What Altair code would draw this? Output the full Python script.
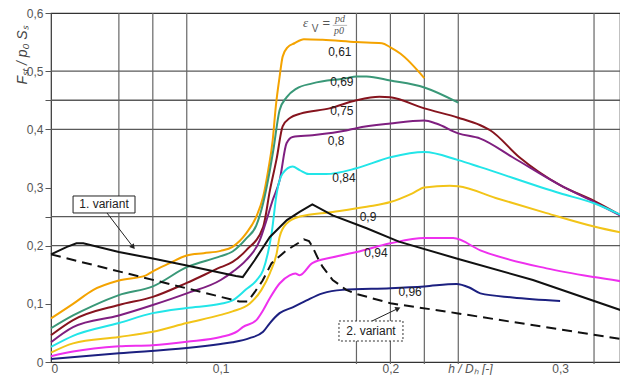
import altair as alt
import pandas as pd

# ---------------- data ----------------
series_names = ["0,61", "0,69", "0,75", "0,8", "0,84", "0,9", "0,94", "0,96"]
series_colors = ["#F4A300", "#3A9878", "#86141E", "#7F1F80", "#22E5E8", "#F2C418", "#EE30EE", "#1C2080"]

x061 = [0, 0.013, 0.025, 0.04, 0.056, 0.06, 0.07, 0.08, 0.09, 0.1, 0.107, 0.115, 0.121, 0.125, 0.128, 0.1306, 0.1325, 0.1347, 0.1365, 0.1394, 0.1435, 0.149, 0.16, 0.18, 0.195, 0.2, 0.206, 0.22]
y061 = [0.075, 0.1, 0.124, 0.14, 0.149, 0.156, 0.17, 0.183, 0.187, 0.191, 0.198, 0.221, 0.25, 0.284, 0.33, 0.38, 0.44, 0.49, 0.525, 0.541, 0.548, 0.555, 0.554, 0.55, 0.548, 0.541, 0.53, 0.488]

x069 = [0, 0.013, 0.025, 0.04, 0.06, 0.08, 0.1, 0.107, 0.115, 0.121, 0.125, 0.129, 0.131, 0.1347, 0.1388, 0.1447, 0.1541, 0.174, 0.18, 0.186, 0.2, 0.22, 0.24]
y069 = [0.058, 0.08, 0.097, 0.115, 0.13, 0.163, 0.182, 0.19, 0.212, 0.235, 0.273, 0.33, 0.364, 0.433, 0.455, 0.47, 0.479, 0.488, 0.491, 0.491, 0.484, 0.472, 0.446]

x075 = [0, 0.013, 0.04, 0.06, 0.08, 0.1, 0.107, 0.115, 0.125, 0.129, 0.133, 0.1365, 0.141, 0.147, 0.1641, 0.18, 0.1935, 0.2, 0.22, 0.24, 0.253, 0.259, 0.276, 0.3, 0.32, 0.34]
y075 = [0.046, 0.072, 0.098, 0.112, 0.136, 0.163, 0.172, 0.192, 0.232, 0.295, 0.35, 0.405, 0.42, 0.427, 0.436, 0.45, 0.456, 0.455, 0.436, 0.42, 0.407, 0.398, 0.352, 0.304, 0.277, 0.245]

x080 = [0, 0.013, 0.04, 0.06, 0.08, 0.1, 0.107, 0.115, 0.123, 0.127, 0.1306, 0.1347, 0.1388, 0.1424, 0.1541, 0.174, 0.18, 0.2, 0.22, 0.227, 0.24, 0.253, 0.272, 0.3, 0.32, 0.34]
y080 = [0.034, 0.06, 0.08, 0.098, 0.118, 0.141, 0.155, 0.175, 0.209, 0.244, 0.278, 0.312, 0.376, 0.387, 0.39, 0.398, 0.402, 0.41, 0.415, 0.41, 0.393, 0.384, 0.352, 0.304, 0.275, 0.245]

x084 = [0, 0.013, 0.04, 0.06, 0.08, 0.1, 0.107, 0.115, 0.121, 0.125, 0.128, 0.13, 0.133, 0.1365, 0.1424, 0.1465, 0.152, 0.162, 0.18, 0.2, 0.22, 0.24, 0.253, 0.3, 0.32, 0.34]
y084 = [0.026, 0.045, 0.067, 0.084, 0.093, 0.1, 0.106, 0.125, 0.14, 0.158, 0.19, 0.221, 0.29, 0.324, 0.336, 0.33, 0.323, 0.323, 0.333, 0.352, 0.361, 0.347, 0.335, 0.29, 0.273, 0.247]

x090 = [0, 0.013, 0.04, 0.06, 0.08, 0.1, 0.107, 0.117, 0.124, 0.129, 0.133, 0.1347, 0.1388, 0.1465, 0.166, 0.186, 0.2, 0.213, 0.22, 0.235, 0.24, 0.262, 0.292, 0.32, 0.34]
y090 = [0.016, 0.032, 0.043, 0.052, 0.067, 0.081, 0.087, 0.1, 0.124, 0.153, 0.187, 0.215, 0.238, 0.25, 0.258, 0.267, 0.275, 0.29, 0.3, 0.303, 0.302, 0.282, 0.256, 0.233, 0.22]

x094 = [0, 0.013, 0.04, 0.06, 0.08, 0.1, 0.11, 0.113, 0.121, 0.125, 0.129, 0.1347, 0.1406, 0.144, 0.1465, 0.154, 0.166, 0.18, 0.2, 0.22, 0.237, 0.253, 0.292, 0.32, 0.34]
y094 = [0.01, 0.018, 0.027, 0.029, 0.035, 0.043, 0.053, 0.06, 0.072, 0.089, 0.11, 0.135, 0.149, 0.152, 0.149, 0.17, 0.18, 0.189, 0.204, 0.213, 0.213, 0.192, 0.161, 0.146, 0.137]

x096 = [0, 0.04, 0.08, 0.1, 0.107, 0.117, 0.125, 0.129, 0.1347, 0.1424, 0.1506, 0.16, 0.1718, 0.2, 0.22, 0.239, 0.2465, 0.253, 0.272, 0.3]
y096 = [0.005, 0.015, 0.024, 0.031, 0.034, 0.041, 0.052, 0.067, 0.084, 0.094, 0.106, 0.118, 0.124, 0.127, 0.13, 0.134, 0.128, 0.118, 0.111, 0.105]

xs_all = [x061, x069, x075, x080, x084, x090, x094, x096]
ys_all = [y061, y069, y075, y080, y084, y090, y094, y096]

# black reference curves
var1_x = [0, 0.0094, 0.015, 0.019, 0.04, 0.06, 0.08, 0.109, 0.113, 0.12, 0.129, 0.139, 0.1465, 0.154, 0.166, 0.186, 0.205, 0.239, 0.284, 0.339]
var1_y = [0.185, 0.198, 0.204, 0.204, 0.189, 0.178, 0.166, 0.148, 0.146, 0.175, 0.215, 0.244, 0.258, 0.271, 0.252, 0.23, 0.207, 0.178, 0.141, 0.086]

var2_x = [0, 0.111, 0.116, 0.12, 0.1247, 0.13, 0.1388, 0.146, 0.149, 0.152, 0.1541, 0.157, 0.16, 0.166, 0.174, 0.18, 0.2, 0.239, 0.339]
var2_y = [0.185, 0.104, 0.104, 0.12, 0.14, 0.17, 0.192, 0.205, 0.211, 0.208, 0.198, 0.18, 0.164, 0.141, 0.124, 0.117, 0.101, 0.084, 0.038]

# curve labels
lab_text = ["0,61", "0,69", "0,75", "0,8", "0,84", "0,9", "0,94", "0,96"]
lab_x = [0.1702, 0.1714, 0.1714, 0.1680, 0.1726, 0.1868, 0.1915, 0.2116]
lab_y = [0.533, 0.481, 0.431, 0.380, 0.316, 0.249, 0.187, 0.120]

# grid / ticks
hgrid = [0.2, 0.25, 0.4, 0.45, 0.5]
vgrid = [0.04, 0.06, 0.08, 0.18, 0.2, 0.22, 0.24, 0.32]
x_labels = [0, 0.1, 0.2, 0.3]
y_ticks = [0, 0.1, 0.2, 0.25, 0.3, 0.4, 0.45, 0.5, 0.6]
x_max = 0.3353
y_max = 0.6

# annotations
box_text = ["1. variant", "2. variant"]
box_x1 = [0.0130, 0.1697]
box_x2 = [0.0495, 0.2074]
box_y1 = [0.2854, 0.0705]
box_y2 = [0.2562, 0.0361]
arrow_x1 = [0.0330, 0.1892]
arrow_y1 = [0.2562, 0.0705]
arrow_x2 = [0.0484, 0.2045]
arrow_y2 = [0.1975, 0.0920]
arrow_angle = [51, 335]

# legend header  eps_V = p_d / p_0
hx = [0.1500, 0.1556, 0.1623, 0.1703, 0.1697]
hy = [0.583, 0.5725, 0.5836, 0.5897, 0.569]
ht = ["ε", "V", "=", "pd", "p0"]
hs = [13, 10, 13, 10, 10]
hst = ["italic", "normal", "normal", "italic", "italic"]

# ---------------- build ----------------
rows = []
for name, xs, ys in zip(series_names, xs_all, ys_all):
    for i, (a, b) in enumerate(zip(xs, ys)):
        rows.append({"s": name, "x": a, "y": b, "o": i})
df = pd.DataFrame(rows)

xsc = alt.Scale(domain=[0, x_max], nice=False, zero=False)
ysc = alt.Scale(domain=[0, y_max], nice=False, zero=False)
FONT = "Liberation Sans"

x_axis = alt.Axis(values=x_labels, ticks=False, domain=False, grid=False,
                  labelExpr="datum.value == 0 ? '0' : replace(format(datum.value, '.1f'), '.', ',')",
                  labelFont=FONT, labelFontSize=12, labelColor="#555", labelPadding=1,
                  title="h / Dₕ [-]", titleFont=FONT, titleFontSize=12, titleFontStyle="italic",
                  titleFontWeight="normal", titleColor="#555", titleX=419, titleY=6,
                  titleAlign="center", titleBaseline="middle")
y_axis = alt.Axis(values=y_ticks, domain=False, grid=False, ticks=True, tickSize=6,
                  tickColor="#555",
                  labelExpr="abs(datum.value*10 - round(datum.value*10)) > 0.01 ? '' : (datum.value == 0 ? '0' : replace(format(datum.value, '.1f'), '.', ','))",
                  labelFont=FONT, labelFontSize=12, labelColor="#555", labelPadding=2,
                  title="Fₛₜ / p₀ Sₛ", titleFont=FONT, titleFontSize=14, titleFontStyle="italic",
                  titleFontWeight="normal", titleColor="#444", titleX=-29, titleY=42,
                  titleAlign="center", titleBaseline="middle", titleAngle=270)


def X(f):
    return alt.X(f, type="quantitative", scale=xsc, axis=x_axis)


def Y(f):
    return alt.Y(f, type="quantitative", scale=ysc, axis=y_axis)


hg = alt.Chart(pd.DataFrame({"v": hgrid})).mark_rule(color="#5a5a5a", strokeWidth=1.3).encode(y=Y("v"))
vg = alt.Chart(pd.DataFrame({"v": vgrid})).mark_rule(color="#666", strokeWidth=1.2).encode(x=X("v"))
vt = alt.Chart(pd.DataFrame({"v": vgrid})).mark_rule(color="#666", strokeWidth=1.2).encode(
    x=X("v"), y=alt.value(349), y2=alt.value(351))

curves = alt.Chart(df).mark_line(strokeWidth=2, interpolate="monotone").encode(
    x=X("x"), y=Y("y"),
    color=alt.Color("s:N", scale=alt.Scale(domain=series_names, range=series_colors), legend=None),
    order="o:Q")

v1 = alt.Chart(pd.DataFrame({"x": var1_x, "y": var1_y, "o": range(len(var1_x))})).mark_line(
    color="#111", strokeWidth=2).encode(x=X("x"), y=Y("y"), order="o:Q")
v2 = alt.Chart(pd.DataFrame({"x": var2_x, "y": var2_y, "o": range(len(var2_x))})).mark_line(
    color="#111", strokeWidth=2, strokeDash=[10, 6]).encode(x=X("x"), y=Y("y"), order="o:Q")

labels = alt.Chart(pd.DataFrame({"x": lab_x, "y": lab_y, "t": lab_text})).mark_text(
    font=FONT, fontSize=12, color="#222").encode(x=X("x"), y=Y("y"), text="t:N")

bdf = pd.DataFrame({"x1": box_x1, "x2": box_x2, "y1": box_y1, "y2": box_y2, "t": box_text,
                    "cx": [(a + b) / 2 for a, b in zip(box_x1, box_x2)],
                    "cy": [(a + b) / 2 for a, b in zip(box_y1, box_y2)]})
box1 = alt.Chart(bdf.iloc[[0]]).mark_rect(fill="white", stroke="#222", strokeWidth=1).encode(
    x=X("x1"), x2="x2:Q", y=Y("y1"), y2="y2:Q")
box2 = alt.Chart(bdf.iloc[[1]]).mark_rect(fill="white", stroke="#333", strokeWidth=1, strokeDash=[2, 2]).encode(
    x=X("x1"), x2="x2:Q", y=Y("y1"), y2="y2:Q")
btxt = alt.Chart(bdf).mark_text(font=FONT, fontSize=12, color="#222", baseline="middle").encode(
    x=X("cx"), y=Y("cy"), text="t:N")

adf = pd.DataFrame({"x1": arrow_x1, "y1": arrow_y1, "x2": arrow_x2, "y2": arrow_y2, "a": arrow_angle})
arr = alt.Chart(adf).mark_rule(color="#222", strokeWidth=1).encode(
    x=X("x1"), x2="x2:Q", y=Y("y1"), y2="y2:Q")
heads = alt.Chart(adf).mark_point(shape="triangle-right", filled=True, color="#222", size=35, opacity=1).encode(
    x=X("x2"), y=Y("y2"), angle=alt.Angle("a:Q", scale=None))

hdf = pd.DataFrame({"x": hx, "y": hy, "t": ht, "s": hs, "st": hst})
head_it = alt.Chart(hdf[hdf.st == "italic"]).mark_text(
    font="Liberation Serif", fontStyle="italic", color="#555", baseline="middle").encode(
    x=X("x"), y=Y("y"), text="t:N", size=alt.Size("s:Q", scale=None))
head_n = alt.Chart(hdf[hdf.st == "normal"]).mark_text(
    font="Liberation Sans", color="#555", baseline="middle").encode(
    x=X("x"), y=Y("y"), text="t:N", size=alt.Size("s:Q", scale=None))
fline = alt.Chart(pd.DataFrame({"x1": [0.166], "x2": [0.1745], "y": [0.5787]})).mark_rule(
    color="#999", strokeWidth=0.7).encode(x=X("x1"), x2="x2:Q", y=Y("y"))

chart = alt.layer(hg, vg, vt, curves, v1, v2, labels, arr, heads, box1, box2, btxt,
                  head_it, head_n, fline).properties(
    width=569, height=349,
    autosize=alt.AutoSizeParams(type="none"),
    padding={"left": 43, "top": 5, "right": 0, "bottom": 13},
).configure_view(stroke="#333", strokeWidth=1.2)

chart.save("out.html", embed_options={"renderer": "svg", "actions": False})
